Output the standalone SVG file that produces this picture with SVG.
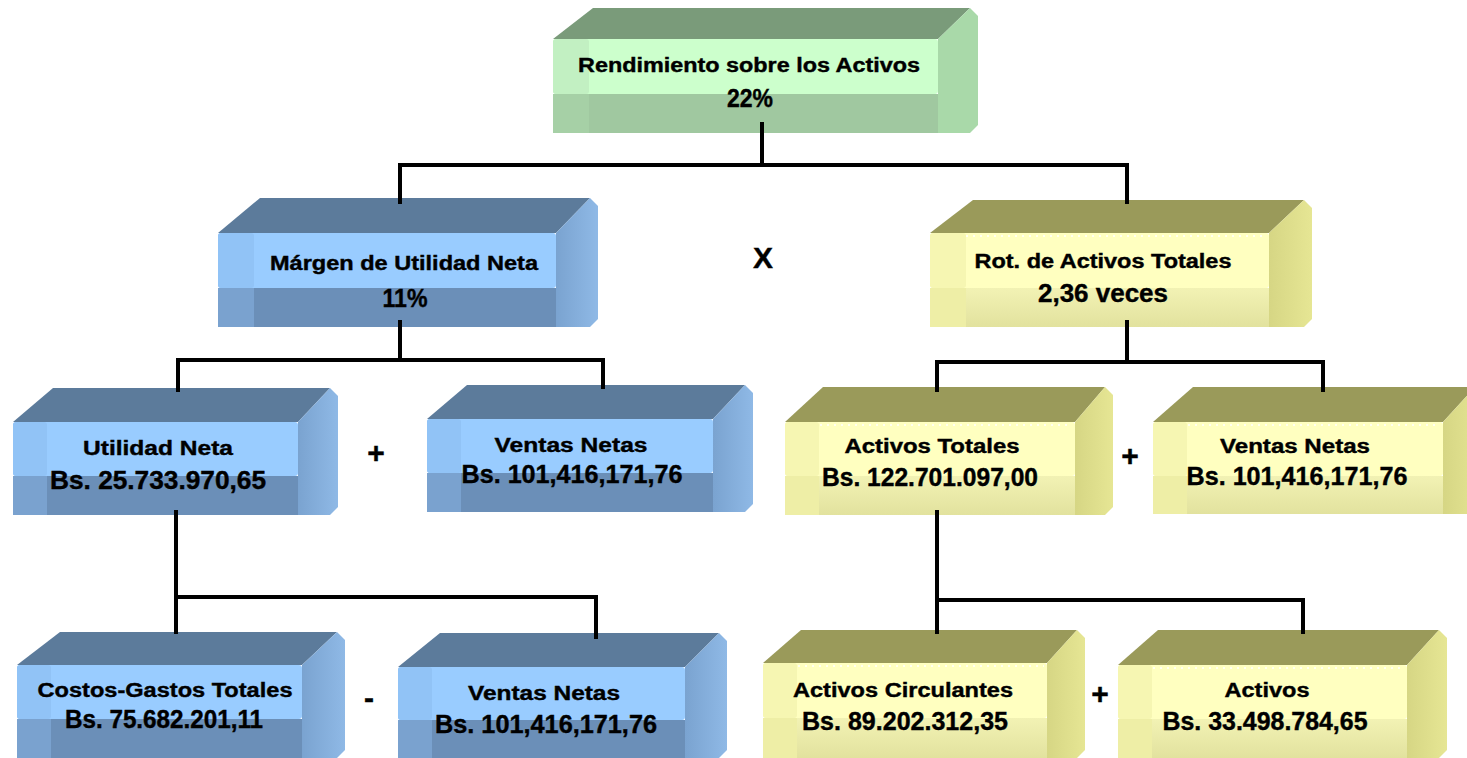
<svg xmlns="http://www.w3.org/2000/svg" width="1467" height="758" viewBox="0 0 1467 758">
  <style>
    text { font-family: "Liberation Sans", Arial, sans-serif; font-weight: bold; fill: #000; stroke: #000; stroke-width: 0.4; text-anchor: middle; }
    .t1 { font-size: 20px; }
    .t2 { font-size: 25px; }
    .op { font-size: 30px; }
    .wire { fill: none; stroke: #000; stroke-width: 4; stroke-linecap: square; }
    /* blue boxes */
    .b-top { fill: #5c7b9b; }
    .b-light { fill: #99ccff; }
    .b-low { fill: #6b8fb8; }
    .b-side { fill: url(#bSide); }
    .b-sl { fill: #91c3f6; }
    .b-sd { fill: #7aa2cf; }
    /* yellow boxes */
    .y-top { fill: #9a9a5a; }
    .y-light { fill: #ffffc0; }
    .y-low { fill: url(#yLow); }
    .y-side { fill: url(#ySide); }
    .y-sl { fill: #f6f6b2; }
    .y-sd { fill: #eeeea6; }
    .y-dots { fill: none; stroke: #ffffff; stroke-width: 1.5; stroke-dasharray: 2 5; }
    /* green box */
    .g-top { fill: #7a9b7a; }
    .g-light { fill: #ccffcc; }
    .g-low { fill: #a0c8a0; }
    .g-side { fill: #a9d9a9; }
    .g-sl { fill: #c2f0c2; }
    .g-sd { fill: #a6d0a6; }
  </style>
  <defs>
    <linearGradient id="bSide" x1="0" y1="0" x2="1" y2="0">
      <stop offset="0" stop-color="#7aa3d0"/>
      <stop offset="1" stop-color="#8fb9e6"/>
    </linearGradient>
    <linearGradient id="ySide" x1="0" y1="0" x2="1" y2="0">
      <stop offset="0" stop-color="#d6d684"/>
      <stop offset="1" stop-color="#e6e694"/>
    </linearGradient>
    <linearGradient id="yLow" x1="0" y1="0" x2="0" y2="1">
      <stop offset="0" stop-color="#f2f2b4"/>
      <stop offset="1" stop-color="#e2e29e"/>
    </linearGradient>
  </defs>

  <rect x="0" y="0" width="1467" height="758" fill="#ffffff"/>

  <!-- Rendimiento sobre los Activos -->
  <g id="node-rendimiento">
    <polygon class="g-top" points="593,8 970,8 938,39 553,39"/>
    <polygon class="g-side" points="938,39 970,8 978,16 978,125 970,133 938,133"/>
    <rect class="g-light" x="553" y="39" width="385" height="55" rx="3"/>
    <rect class="g-low" x="553" y="94" width="385" height="39"/>
    <rect class="g-sl" x="553" y="39" width="36" height="55" rx="3"/>
    <rect class="g-sd" x="553" y="94" width="36" height="39"/>
    <text class="t1" x="749" y="72" textLength="342" lengthAdjust="spacingAndGlyphs">Rendimiento sobre los Activos</text>
    <text class="t2" x="750" y="107" textLength="46" lengthAdjust="spacingAndGlyphs">22%</text>
  </g>

  <!-- Márgen de Utilidad Neta -->
  <g id="node-margen">
    <polygon class="b-top" points="260,198 590,198 556,233 218,233"/>
    <polygon class="b-side" points="556,233 590,198 598,206 598,319 590,327 556,327"/>
    <rect class="b-light" x="218" y="233" width="338" height="55" rx="3"/>
    <rect class="b-low" x="218" y="288" width="338" height="39"/>
    <rect class="b-sl" x="218" y="233" width="36" height="55" rx="3"/>
    <rect class="b-sd" x="218" y="288" width="36" height="39"/>
    <text class="t1" x="404" y="270" textLength="268" lengthAdjust="spacingAndGlyphs">Márgen de Utilidad Neta</text>
    <text class="t2" x="405" y="307" textLength="45" lengthAdjust="spacingAndGlyphs">11%</text>
  </g>

  <!-- Rot. de Activos Totales -->
  <g id="node-rotacion">
    <polygon class="y-top" points="973,200 1304,200 1269,233 930,233"/>
    <polygon class="y-side" points="1269,233 1304,200 1312,208 1312,319 1304,327 1269,327"/>
    <rect class="y-light" x="930" y="233" width="339" height="55" rx="3"/>
    <rect class="y-low" x="930" y="288" width="339" height="39"/>
    <rect class="y-sl" x="930" y="233" width="36" height="55" rx="3"/>
    <rect class="y-sd" x="930" y="288" width="36" height="39"/>
    <line class="y-dots" x1="966" y1="236" x2="1266" y2="236"/>
    <text class="t1" x="1103" y="268" textLength="257" lengthAdjust="spacingAndGlyphs">Rot. de Activos Totales</text>
    <text class="t2" x="1103" y="302" textLength="130" lengthAdjust="spacingAndGlyphs">2,36 veces</text>
  </g>

  <!-- Utilidad Neta -->
  <g id="node-utilidad">
    <polygon class="b-top" points="53,388 330,388 298,422 13,422"/>
    <polygon class="b-side" points="298,422 330,388 338,396 338,507 330,515 298,515"/>
    <rect class="b-light" x="13" y="422" width="285" height="54" rx="3"/>
    <rect class="b-low" x="13" y="476" width="285" height="39"/>
    <rect class="b-sl" x="13" y="422" width="34" height="54" rx="3"/>
    <rect class="b-sd" x="13" y="476" width="34" height="39"/>
    <text class="t1" x="158" y="455" textLength="150" lengthAdjust="spacingAndGlyphs">Utilidad  Neta</text>
    <text class="t2" x="158" y="489" textLength="216" lengthAdjust="spacingAndGlyphs">Bs.  25.733.970,65</text>
  </g>

  <!-- Ventas Netas (margen) -->
  <g id="node-ventas-margen">
    <polygon class="b-top" points="467,385 745,385 713,419 427,419"/>
    <polygon class="b-side" points="713,419 745,385 753,393 753,504 745,512 713,512"/>
    <rect class="b-light" x="427" y="419" width="286" height="54" rx="3"/>
    <rect class="b-low" x="427" y="473" width="286" height="39"/>
    <rect class="b-sl" x="427" y="419" width="34" height="54" rx="3"/>
    <rect class="b-sd" x="427" y="473" width="34" height="39"/>
    <text class="t1" x="571" y="452" textLength="153" lengthAdjust="spacingAndGlyphs">Ventas Netas</text>
    <text class="t2" x="572" y="483" textLength="221" lengthAdjust="spacingAndGlyphs">Bs. 101,416,171,76</text>
  </g>

  <!-- Activos Totales -->
  <g id="node-activos-totales">
    <polygon class="y-top" points="823,387 1105,387 1075,422 785,422"/>
    <polygon class="y-side" points="1075,422 1105,387 1113,395 1113,507 1105,515 1075,515"/>
    <rect class="y-light" x="785" y="422" width="290" height="54" rx="3"/>
    <rect class="y-low" x="785" y="476" width="290" height="39"/>
    <rect class="y-sl" x="785" y="422" width="34" height="54" rx="3"/>
    <rect class="y-sd" x="785" y="476" width="34" height="39"/>
    <line class="y-dots" x1="820" y1="425" x2="1072" y2="425"/>
    <text class="t1" x="932" y="453" textLength="175" lengthAdjust="spacingAndGlyphs">Activos Totales</text>
    <text class="t2" x="930" y="486" textLength="216" lengthAdjust="spacingAndGlyphs">Bs. 122.701.097,00</text>
  </g>

  <!-- Ventas Netas (rotación) -->
  <g id="node-ventas-rotacion">
    <polygon class="y-top" points="1193,387 1475,387 1443,422 1153,422"/>
    <polygon class="y-side" points="1443,422 1475,387 1483,395 1483,506 1475,514 1443,514"/>
    <rect class="y-light" x="1153" y="422" width="290" height="54" rx="3"/>
    <rect class="y-low" x="1153" y="476" width="290" height="38"/>
    <rect class="y-sl" x="1153" y="422" width="34" height="54" rx="3"/>
    <rect class="y-sd" x="1153" y="476" width="34" height="38"/>
    <line class="y-dots" x1="1188" y1="425" x2="1440" y2="425"/>
    <text class="t1" x="1295" y="453" textLength="150" lengthAdjust="spacingAndGlyphs">Ventas Netas</text>
    <text class="t2" x="1297" y="485" textLength="221" lengthAdjust="spacingAndGlyphs">Bs. 101,416,171,76</text>
  </g>

  <!-- Costos-Gastos Totales -->
  <g id="node-costos">
    <polygon class="b-top" points="60,632 337,632 302,665 17,665"/>
    <polygon class="b-side" points="302,665 337,632 345,640 345,750 337,758 302,758"/>
    <rect class="b-light" x="17" y="665" width="285" height="54" rx="3"/>
    <rect class="b-low" x="17" y="719" width="285" height="39"/>
    <rect class="b-sl" x="17" y="665" width="34" height="54" rx="3"/>
    <rect class="b-sd" x="17" y="719" width="34" height="39"/>
    <text class="t1" x="165" y="697" textLength="255" lengthAdjust="spacingAndGlyphs">Costos-Gastos Totales</text>
    <text class="t2" x="164" y="728" textLength="198" lengthAdjust="spacingAndGlyphs">Bs. 75.682.201,11</text>
  </g>

  <!-- Ventas Netas (utilidad) -->
  <g id="node-ventas-utilidad">
    <polygon class="b-top" points="440,633 719,633 685,667 398,667"/>
    <polygon class="b-side" points="685,667 719,633 727,641 727,750 719,758 685,758"/>
    <rect class="b-light" x="398" y="667" width="287" height="53" rx="3"/>
    <rect class="b-low" x="398" y="720" width="287" height="38"/>
    <rect class="b-sl" x="398" y="667" width="34" height="53" rx="3"/>
    <rect class="b-sd" x="398" y="720" width="34" height="38"/>
    <text class="t1" x="544" y="700" textLength="152" lengthAdjust="spacingAndGlyphs">Ventas Netas</text>
    <text class="t2" x="546" y="733" textLength="222" lengthAdjust="spacingAndGlyphs">Bs. 101,416,171,76</text>
  </g>

  <!-- Activos Circulantes -->
  <g id="node-activos-circulantes">
    <polygon class="y-top" points="801,630 1077,630 1047,663 763,663"/>
    <polygon class="y-side" points="1047,663 1077,630 1085,638 1085,750 1077,758 1047,758"/>
    <rect class="y-light" x="763" y="663" width="284" height="55" rx="3"/>
    <rect class="y-low" x="763" y="718" width="284" height="40"/>
    <rect class="y-sl" x="763" y="663" width="34" height="55" rx="3"/>
    <rect class="y-sd" x="763" y="718" width="34" height="40"/>
    <line class="y-dots" x1="798" y1="666" x2="1044" y2="666"/>
    <text class="t1" x="903" y="697" textLength="220" lengthAdjust="spacingAndGlyphs">Activos Circulantes</text>
    <text class="t2" x="905" y="730" textLength="206" lengthAdjust="spacingAndGlyphs">Bs. 89.202.312,35</text>
  </g>

  <!-- Activos -->
  <g id="node-activos">
    <polygon class="y-top" points="1158,630 1439,630 1407,665 1118,665"/>
    <polygon class="y-side" points="1407,665 1439,630 1447,638 1447,750 1439,758 1407,758"/>
    <rect class="y-light" x="1118" y="665" width="289" height="54" rx="3"/>
    <rect class="y-low" x="1118" y="719" width="289" height="39"/>
    <rect class="y-sl" x="1118" y="665" width="34" height="54" rx="3"/>
    <rect class="y-sd" x="1118" y="719" width="34" height="39"/>
    <line class="y-dots" x1="1153" y1="668" x2="1404" y2="668"/>
    <text class="t1" x="1267" y="697" textLength="85" lengthAdjust="spacingAndGlyphs">Activos</text>
    <text class="t2" x="1265" y="730" textLength="205" lengthAdjust="spacingAndGlyphs">Bs. 33.498.784,65</text>
  </g>

  <!-- operators between sibling boxes -->
  <g id="operators">
    <text class="op" x="763" y="268" textLength="20" lengthAdjust="spacingAndGlyphs">X</text>
    <text class="op" x="376" y="463">+</text>
    <text class="op" x="1130" y="466">+</text>
    <text class="op" x="369" y="708">-</text>
    <text class="op" x="1100" y="704">+</text>
  </g>

  <!-- tree connectors -->
  <g id="connectors">
    <path class="wire" d="M762,124 V165 M400,165 H1127 M400,165 V202 M1127,165 V202"/>
    <path class="wire" d="M400,322 V360 M178,360 H603 M178,360 V390 M603,360 V387"/>
    <path class="wire" d="M1127,322 V362 M937,362 H1323 M937,362 V390 M1323,362 V390"/>
    <path class="wire" d="M176,512 V632 M176,597 H596 M596,597 V637"/>
    <path class="wire" d="M937,512 V632 M937,600 H1303 M1303,600 V632"/>
  </g>
</svg>
